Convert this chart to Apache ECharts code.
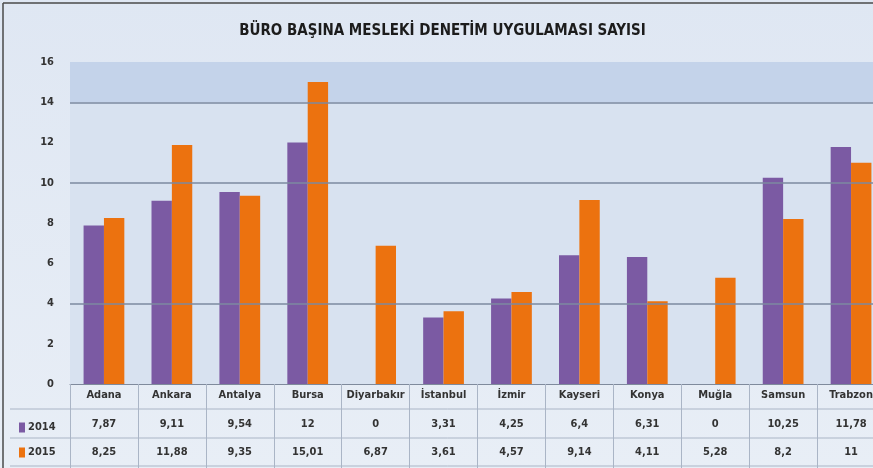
<!DOCTYPE html>
<html><head><meta charset="utf-8">
<script src="https://cdn.jsdelivr.net/npm/echarts@6/dist/echarts.min.js"></script>
<style>html,body{margin:0;padding:0;overflow:hidden;width:873px;height:468px;}#c{width:885px;height:468px;}</style>
</head><body><div id="c"></div>
<script>
const titleText = 'BÜRO BAŞINA MESLEKİ DENETİM UYGULAMASI SAYISI';
const categories = ['Adana','Ankara','Antalya','Bursa','Diyarbakır','İstanbul','İzmir','Kayseri','Konya','Muğla','Samsun','Trabzon'];
const seriesNames = ['2014','2015'];
const values2014 = [7.87, 9.11, 9.54, 12, 0, 3.31, 4.25, 6.4, 6.31, 0, 10.25, 11.78];
const values2015 = [8.25, 11.88, 9.35, 15.01, 6.87, 3.61, 4.57, 9.14, 4.11, 5.28, 8.2, 11];
const gridLineValues = [4, 10, 14];
const bandRange = [14, 16];

const FONT = "'Liberation Sans Narrow','DejaVu Sans Condensed',sans-serif";
const PURPLE = '#7b5aa3';
const ORANGE = '#ec720f';
const fmt = v => String(v).replace('.', ',');

const chart = echarts.init(document.getElementById('c'));
chart.setOption({
  animation: false,
  backgroundColor: {type:'linear', x:0, y:0, x2:0, y2:1, colorStops:[
    {offset:0, color:'#dfe7f3'}, {offset:1, color:'#e8eef6'}]},
  title: {text: titleText, left: 'center', top: 19,
    textStyle: {fontFamily: FONT, fontSize: 15, fontWeight: 'bold', color: '#1c1c1c'}},
  legend: {orient: 'vertical', left: 14, top: 417, itemWidth: 6, itemHeight: 10, itemGap: 14,
    icon: 'rect', textStyle: {fontFamily: FONT, fontSize: 11, fontWeight: 'bold', color: '#333', padding:[0,0,0,-2]},
    data: seriesNames},
  grid: {left: 70, right: 0, top: 62, bottom: 84, show: true, backgroundColor: '#d8e2f0', borderWidth: 0},
  xAxis: {type: 'category', data: categories,
    axisLine: {lineStyle: {color: '#7f8a9c', width: 1}},
    axisTick: {show: true, length: 84, lineStyle: {color: '#aab5c6'}},
    axisLabel: {interval: 0, margin: 0,
      formatter: (val, idx) => '{c|' + val + '}\n{a|' + fmt(values2014[idx]) + '}\n{b|' + fmt(values2015[idx]) + '}',
      rich: {
        c: {fontFamily: FONT, fontSize: 11, fontWeight: 'bold', color: '#333', lineHeight: 22},
        a: {fontFamily: FONT, fontSize: 11, fontWeight: 'bold', color: '#333', lineHeight: 36},
        b: {fontFamily: FONT, fontSize: 11, fontWeight: 'bold', color: '#333', lineHeight: 20}
      }}},
  yAxis: {type: 'value', min: 0, max: 16, interval: 2,
    axisLine: {show: false}, axisTick: {show: false}, splitLine: {show: false},
    axisLabel: {margin: 16, fontFamily: FONT, fontSize: 11, fontWeight: 'bold', color: '#333'}},
  series: [
    {name: 'bg', type: 'line', data: [], z: 1, silent: true,
      markArea: {silent: true, itemStyle: {color: '#c4d3ea'}, data: [[{yAxis: bandRange[0]}, {yAxis: bandRange[1]}]]},
      markLine: {silent: true, symbol: 'none', label: {show: false},
        lineStyle: {color: '#7d8aa0', type: 'solid', width: 1.5},
        data: gridLineValues.map(v => ({yAxis: v}))}},
    {name: seriesNames[0], type: 'bar', data: values2014, z: 3, barGap: '0%', barCategoryGap: '40%',
      itemStyle: {color: PURPLE}},
    {name: seriesNames[1], type: 'bar', data: values2015, z: 3, itemStyle: {color: ORANGE}}
  ],
  graphic: [
    {type: 'line', z: 10, shape: {x1: 10, y1: 409, x2: 885, y2: 409}, style: {stroke: '#aab5c6', lineWidth: 1}},
    {type: 'line', z: 10, shape: {x1: 10, y1: 438, x2: 885, y2: 438}, style: {stroke: '#aab5c6', lineWidth: 1}},
    {type: 'line', z: 10, shape: {x1: 10, y1: 466, x2: 885, y2: 466}, style: {stroke: '#aab5c6', lineWidth: 1}},
    {type: 'line', z: 10, shape: {x1: 3, y1: 3, x2: 885, y2: 3}, style: {stroke: '#4a4a4a', lineWidth: 1.5}},
    {type: 'line', z: 10, shape: {x1: 3, y1: 3, x2: 3, y2: 468}, style: {stroke: '#4a4a4a', lineWidth: 1.5}}
  ]
});
</script>
</body></html>
